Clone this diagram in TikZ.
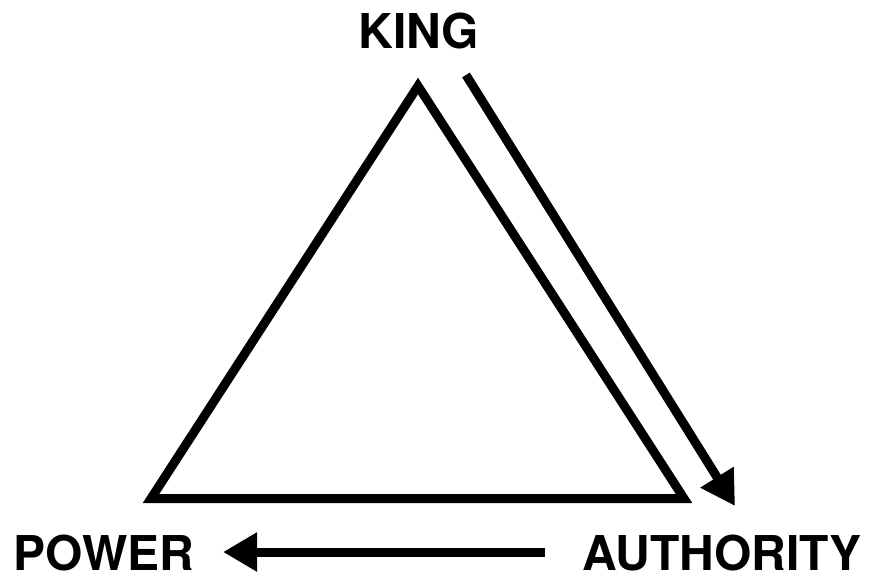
\documentclass[tikz,border=0pt]{standalone}
\usepackage{fontspec}
\setmainfont{TeX Gyre Heros}
\usetikzlibrary{arrows.meta}
\begin{document}
\begin{tikzpicture}[x=1pt,y=-1pt,
  lbl/.style={font=\fontsize{48}{48}\selectfont\bfseries, inner sep=0pt, anchor=base},
  tri/.style={line width=9pt, line join=miter, miter limit=10},
  arr/.style={line width=9pt, -{Triangle[length=34pt,width=37pt]}}]
\useasboundingbox (0,0) rectangle (869,576);
\coordinate (apex) at (418,86);
\coordinate (bl) at (151,498.5);
\coordinate (br) at (684,498.5);
\draw[tri] (apex) -- (bl) -- (br) -- cycle;
\node[lbl] (king) at (419,48) {KING};
\node[lbl] (power) at (104,570) {POWER};
\node[lbl] (auth) at (722,570) {AUTHORITY};
\coordinate (k1) at (466,75);
\coordinate (k2) at (735,506);
\draw[arr] (k1) -- (k2);
\coordinate (a1) at (545,552);
\coordinate (p1) at (223,552);
\draw[arr] (a1) -- (p1);
\end{tikzpicture}
\end{document}
